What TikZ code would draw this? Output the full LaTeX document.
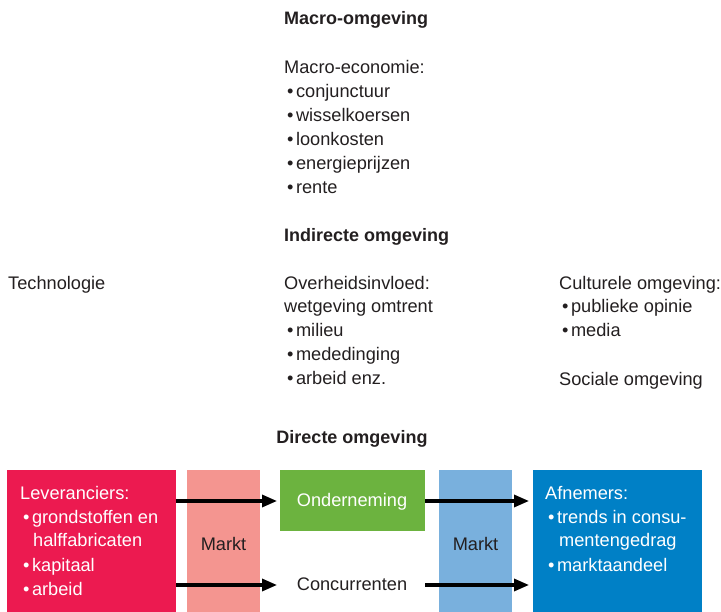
\documentclass[tikz,border=0pt]{standalone}
\usepackage{fontspec}
\setmainfont{Liberation Sans}
\usetikzlibrary{arrows.meta}
\definecolor{levcol}{HTML}{EC1A50}
\definecolor{pinkm}{HTML}{F49590}
\definecolor{greeno}{HTML}{6CB33F}
\definecolor{bluem}{HTML}{79B0DD}
\definecolor{bluea}{HTML}{0080C6}
\definecolor{txt}{HTML}{231F20}
\tikzset{
  lbl/.style={anchor=base west, inner sep=0pt, text=txt, font=\fontsize{18.2}{24}\selectfont},
  clbl/.style={anchor=base, inner sep=0pt, text=txt, font=\fontsize{18.2}{24}\selectfont},
  head/.style={anchor=base west, inner sep=0pt, text=txt, font=\fontsize{18}{24}\selectfont\bfseries},
  wlbl/.style={lbl, text=white},
  box/.style={draw=none, anchor=north west, inner sep=0pt},
  arr/.style={line width=3.2pt, draw=black, -{Triangle[length=15pt,width=12pt]}},
}
\newcommand{\bul}{\hspace*{3pt}•\hspace{2.5pt}}
\begin{document}
\begin{tikzpicture}[x=1pt,y=-1pt]
\useasboundingbox (0,0) rectangle (721,612);
% top: macro
\node[head] (macro) at (284,25) {Macro-omgeving};
\node[lbl] (me) at (284,74) {Macro-economie:};
\node[lbl] (m1) at (284,98) {\bul conjunctuur};
\node[lbl] (m2) at (284,122) {\bul wisselkoersen};
\node[lbl] (m3) at (284,146) {\bul loonkosten};
\node[lbl] (m4) at (284,170) {\bul energieprijzen};
\node[lbl] (m5) at (284,194) {\bul rente};
% indirect
\node[head] (ind) at (284,242) {Indirecte omgeving};
\node[lbl] (tech) at (8,290) {Technologie};
\node[lbl] (ov) at (284,290) {Overheidsinvloed:};
\node[lbl] (ov1) at (284,313) {wetgeving omtrent};
\node[lbl] (ov2) at (284,337) {\bul milieu};
\node[lbl] (ov3) at (284,361) {\bul mededinging};
\node[lbl] (ov4) at (284,385) {\bul arbeid enz.};
\node[lbl] (cu) at (559,290) {Culturele omgeving:};
\node[lbl] (cu1) at (559,313) {\bul publieke opinie};
\node[lbl] (cu2) at (559,337) {\bul media};
\node[lbl] (so) at (559,386) {Sociale omgeving};
% direct
\node[head, anchor=base] (dir) at (352,444) {Directe omgeving};
\node[box, fill=levcol, minimum width=169pt, minimum height=142pt] (lev) at (7,470) {};
\node[box, fill=pinkm, minimum width=73pt, minimum height=142pt] (mk1) at (187,470) {};
\node[box, fill=greeno, minimum width=145pt, minimum height=61pt] (ond) at (280,470) {};
\node[box, fill=bluem, minimum width=73pt, minimum height=142pt] (mk2) at (439,470) {};
\node[box, fill=bluea, minimum width=169pt, minimum height=142pt] (afn) at (533,470) {};
% box texts
\node[wlbl] (l0) at (20,500) {Leveranciers:};
\node[wlbl] (l1) at (20,523) {\bul grondstoffen en};
\node[wlbl] (l2) at (33,546) {halffabricaten};
\node[wlbl] (l3) at (20,571) {\bul kapitaal};
\node[wlbl] (l4) at (20,595) {\bul arbeid};
\node[clbl] (mt1) at (223.5,550) {Markt};
\node[clbl] (mt2) at (475.5,550) {Markt};
\node[clbl, text=white] (ondt) at (352,507) {Onderneming};
\node[clbl] (conc) at (352,590) {Concurrenten};
\node[wlbl] (a0) at (545,500) {Afnemers:};
\node[wlbl] (a1) at (545,523) {\bul trends in consu-};
\node[wlbl] (a2) at (559,546) {mentengedrag};
\node[wlbl] (a3) at (545,571) {\bul marktaandeel};
% arrows
\coordinate (ty) at (0,501);
\coordinate (by) at (0,585);
\draw[arr] (lev.east |- ty) -- ([xshift=-3pt]ond.west |- ty);
\draw[arr] (ond.east |- ty) -- ([xshift=-4pt]afn.west |- ty);
\draw[arr] (lev.east |- by) -- ([xshift=-3pt]ond.west |- by);
\draw[arr] (ond.east |- by) -- ([xshift=-4pt]afn.west |- by);
\end{tikzpicture}
\end{document}
